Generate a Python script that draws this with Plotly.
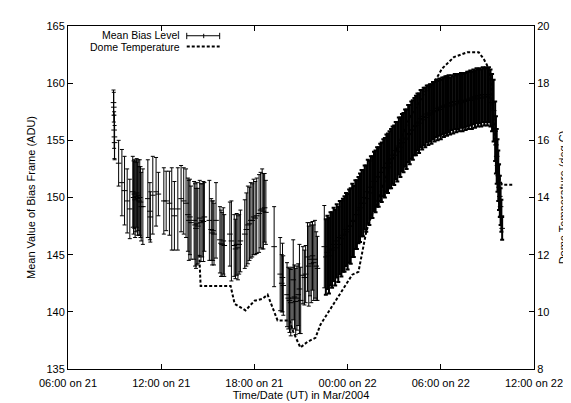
import pandas as pd
import plotly.graph_objects as go

# ---------------- data (hours after 2004-03-21 06:00 UT) ----------------
T0 = "2004-03-21 06:00"

bias_hours = [
    2.93, 2.95, 2.97, 2.99, 3.00, 3.26, 3.47, 3.64, 3.81, 3.98,
    4.17, 4.22, 4.27, 4.32, 4.37, 4.42, 4.47, 4.52, 4.57, 4.62, 4.67, 4.71,
    4.82, 5.14, 5.27, 5.30, 5.46, 5.67, 5.82, 6.17, 6.32, 6.53, 6.68, 6.85,
    7.07, 7.28, 7.45, 7.60, 7.72, 7.78, 7.85, 7.92,
    8.12, 8.18, 8.24, 8.30, 8.36, 8.48, 8.56, 8.64, 8.72, 8.78,
    9.10, 9.22, 9.28, 9.34, 9.40, 9.53, 9.78, 9.85, 9.92, 10.00, 10.06,
    10.42, 10.52, 10.70, 10.78, 10.86, 10.94, 11.02, 11.10,
    11.38, 11.48, 11.58, 11.68, 11.77, 11.86, 11.95, 12.05, 12.15,
    12.30, 12.40, 12.50, 12.58, 12.66, 12.74,
    13.27, 13.66, 13.76, 13.81, 13.86,
    14.10, 14.18, 14.26, 14.34, 14.42, 14.50, 14.58, 14.66, 14.74, 14.82, 14.90, 14.98,
    15.12, 15.22, 15.30, 15.42, 15.50, 15.58, 15.66, 15.74, 15.82, 15.90, 15.98, 16.06,
    16.50,
    16.6, 16.7, 16.8, 16.9, 17.0, 17.1, 17.2, 17.3, 17.4, 17.5,
    17.6, 17.7, 17.8, 17.9, 18.0, 18.1, 18.2, 18.3, 18.4, 18.5,
    18.6, 18.7, 18.8, 18.9, 19.0, 19.1, 19.2, 19.3, 19.4, 19.5,
    19.6, 19.7, 19.8, 19.9, 20.0, 20.1, 20.2, 20.3, 20.4, 20.5,
    20.6, 20.7, 20.8, 20.9, 21.0, 21.1, 21.2, 21.3, 21.4, 21.5,
    21.6, 21.7, 21.8, 21.9, 22.0, 22.1, 22.2, 22.3, 22.4, 22.5,
    22.6, 22.7, 22.8, 22.9, 23.0, 23.1, 23.2, 23.3, 23.4, 23.5,
    23.6, 23.7, 23.8, 23.9, 24.0, 24.1, 24.2, 24.3, 24.4, 24.5,
    24.6, 24.7, 24.8, 24.9, 25.0, 25.1, 25.2, 25.3, 25.4, 25.5,
    25.6, 25.7, 25.8, 25.9, 26.0, 26.1, 26.2, 26.3, 26.4, 26.5,
    26.6, 26.7, 26.8, 26.9, 27.0, 27.1, 27.2, 27.3, 27.4, 27.5,
    27.55, 27.6, 27.65, 27.7, 27.75, 27.8, 27.85, 27.9, 27.95,
]

bias_values = [
    158.3, 157.9, 155.9, 155.3, 154.8, 153.0, 151.3, 150.6, 149.7, 149.0,
    150.5, 150.0, 150.3, 149.8, 150.1, 150.4, 149.9, 150.2, 149.7, 150.0, 149.6, 149.2,
    149.2, 149.9, 148.8, 148.3, 150.2, 150.5, 150.3, 149.7, 149.7, 149.5, 149.0, 148.4,
    149.0, 149.9, 149.7, 149.5, 148.5, 148.0, 148.3, 147.8,
    148.0, 147.6, 147.3, 147.7, 147.5, 148.2, 147.8, 148.0, 147.9, 148.3,
    148.0, 147.2, 146.9, 147.1, 146.8, 148.0, 146.3, 146.0, 145.9, 146.2, 145.8,
    146.8, 146.2, 145.8, 145.5, 145.9, 145.6, 145.9, 146.2,
    146.8, 147.2, 147.6, 147.7, 148.0, 148.0, 148.3, 148.2, 148.4,
    148.6, 148.9, 149.0, 148.8, 149.1, 148.7,
    145.7, 143.3, 142.5, 143.0, 142.3,
    141.5, 141.2, 141.0, 140.8, 141.2, 142.8, 141.3, 140.9, 141.2, 141.5, 142.0, 141.0,
    143.2, 143.0, 143.3, 144.8, 144.0, 144.6, 144.2, 144.9, 144.3, 144.6, 144.0, 143.8,
    145.7,
    144.8, 145.2, 144.9, 145.5, 145.4, 145.9, 145.6, 146.2, 145.9, 146.5,
    146.4, 146.7, 146.8, 147.2, 147.0, 147.5, 147.5, 148.0, 147.9, 148.5,
    148.5, 148.9, 149.1, 149.5, 149.5, 150.0, 149.9, 150.5, 150.4, 150.9,
    150.9, 151.4, 151.4, 151.8, 151.8, 152.2, 152.2, 152.6, 152.6, 153.0,
    153.0, 153.3, 153.4, 153.7, 153.7, 154.1, 154.0, 154.5, 154.4, 154.8,
    154.8, 155.2, 155.1, 155.6, 155.5, 155.9, 155.9, 156.2, 156.3, 156.6,
    156.5, 156.9, 156.8, 157.1, 157.0, 157.3, 157.2, 157.4, 157.3, 157.6,
    157.5, 157.8, 157.6, 157.9, 157.7, 158.0, 157.9, 158.1, 158.0, 158.2,
    158.0, 158.3, 158.1, 158.4, 158.2, 158.4, 158.3, 158.5, 158.3, 158.5,
    158.4, 158.6, 158.5, 158.7, 158.5, 158.8, 158.6, 158.9, 158.7, 158.9,
    158.7, 159.0, 158.8, 159.0, 158.8, 159.0, 158.7, 158.3, 157.6, 155.8,
    154.6, 153.6, 152.8, 151.9, 150.9, 150.1, 149.2, 148.4, 147.3,
]

bias_errors = [
    1.1, 1.3, 1.6, 1.9, 1.5, 2.0, 2.9, 3.0, 2.8, 2.6,
    3.1, 3.2, 3.0, 3.3, 3.1, 3.0, 3.2, 3.1, 3.0, 3.3, 3.1, 3.0,
    3.3, 3.4, 2.5, 2.2, 3.4, 3.0, 1.9, 2.9, 2.6, 2.8, 3.6, 3.0,
    3.6, 2.9, 2.9, 3.0, 3.2, 3.5, 3.3, 3.2,
    3.4, 3.6, 3.5, 3.6, 3.3, 3.3, 3.4, 3.2, 3.5, 3.0,
    3.5, 2.7, 2.8, 2.6, 2.7, 3.3, 2.9, 2.9, 2.8, 2.9, 2.7,
    2.8, 3.5, 2.7, 2.6, 2.7, 2.8, 2.6, 2.7,
    3.0, 3.2, 3.4, 3.2, 3.3, 3.2, 3.3, 3.2, 3.3,
    3.4, 3.3, 3.5, 3.3, 3.0, 2.8,
    3.5, 3.2, 2.5, 3.0, 2.6,
    2.8, 2.7, 2.8, 2.9, 2.7, 3.5, 2.8, 2.9, 2.8, 2.7, 3.9, 2.9,
    2.5, 2.4, 2.5, 3.0, 3.5, 3.2, 3.4, 3.0, 3.3, 3.4, 3.0, 2.8,
    3.6,
    3.3, 3.2, 3.3, 3.2, 3.3, 3.2, 3.3, 3.2, 3.3, 3.2,
    3.3, 3.2, 3.3, 3.2, 3.3, 3.2, 3.3, 3.2, 3.1, 3.0,
    3.0, 2.9, 3.0, 2.9, 2.9, 2.8, 2.9, 2.8, 2.8, 2.7,
    2.7, 2.6, 2.7, 2.6, 2.6, 2.5, 2.6, 2.5, 2.6, 2.5,
    2.6, 2.5, 2.6, 2.5, 2.6, 2.5, 2.6, 2.5, 2.6, 2.5,
    2.6, 2.5, 2.6, 2.5, 2.6, 2.5, 2.6, 2.5, 2.6, 2.5,
    2.6, 2.5, 2.6, 2.5, 2.6, 2.5, 2.6, 2.5, 2.6, 2.5,
    2.6, 2.5, 2.6, 2.5, 2.6, 2.5, 2.6, 2.5, 2.6, 2.5,
    2.5, 2.4, 2.5, 2.4, 2.5, 2.4, 2.5, 2.4, 2.5, 2.4,
    2.5, 2.4, 2.5, 2.4, 2.5, 2.4, 2.5, 2.4, 2.5, 2.4,
    2.5, 2.4, 2.5, 2.4, 2.5, 2.4, 2.5, 2.5, 2.7, 2.6,
    2.5, 2.4, 2.3, 2.2, 2.0, 1.8, 1.6, 1.4, 1.0,
]

# the continuous run of frames starts here (drawn with heavier bars)
DENSE_FROM_HOUR = 16.55

temp_hours = [
    8.45, 8.50, 8.54, 10.47, 10.73, 11.43, 12.01, 12.50, 12.85, 13.29,
    13.49, 14.26, 14.50, 14.96, 15.41, 15.93, 16.25, 17.15, 17.98, 18.30,
    18.70, 18.95, 19.20, 19.50, 20.00, 21.00, 22.00, 23.00, 23.55, 24.08,
    24.84, 25.70, 26.44, 26.76, 26.97, 27.20, 27.50, 27.80, 27.95, 28.70,
]
temp_values = [
    12.0, 11.6, 10.9, 10.9, 10.28, 10.05, 10.39, 10.45, 10.6, 9.98,
    9.70, 9.70, 9.30, 8.75, 8.95, 9.09, 9.55, 10.32, 11.0, 11.3,
    11.4, 12.1, 12.8, 13.3, 14.0, 15.5, 16.8, 17.7, 18.0, 18.51,
    18.91, 19.08, 19.08, 18.85, 18.64, 18.2, 16.0, 14.6, 14.45, 14.45,
]

# ---------------- figure ----------------
base = pd.Timestamp(T0)
df = pd.DataFrame({"h": bias_hours, "v": bias_values, "e": bias_errors})
df["t"] = base + pd.to_timedelta(df["h"], unit="h")
temp_t = base + pd.to_timedelta(temp_hours, unit="h")

FONT = "Liberation Sans, Arial, Helvetica, sans-serif"

fig = go.Figure()
for part, thick in ((df[df["h"] < DENSE_FROM_HOUR], 1), (df[df["h"] >= DENSE_FROM_HOUR], 2)):
    fig.add_trace(go.Scatter(
        x=part["t"], y=part["v"], mode="markers", name="Mean Bias Level",
        marker=dict(symbol="line-ew", size=4, color="black",
                    line=dict(color="black", width=1)),
        error_y=dict(type="data", array=part["e"].tolist(), visible=True,
                     color="black", thickness=thick, width=2),
        showlegend=False,
    ))
fig.add_trace(go.Scatter(
    x=temp_t, y=temp_values, mode="lines", name="Dome Temperature",
    yaxis="y2", line=dict(color="black", width=2, dash="3px,2px"),
    showlegend=False,
))

# gnuplot-style key (text right-aligned, sample to the right)
def px(xp):
    return (xp - 60) / 467.0

def py(yp):
    return 1 - (yp - 13) / 352.0

key_items = ["Mean Bias Level", "Dome Temperature"]
key_rows = [22.5, 34.5]
for label, row in zip(key_items, key_rows):
    fig.add_annotation(x=px(172), y=py(row), xref="paper", yref="paper",
                       text=label, showarrow=False, xanchor="right",
                       yanchor="middle", borderpad=0, borderwidth=0,
                       font=dict(size=10.5, color="black"))
# error bar sample
fig.add_shape(type="line", xref="paper", yref="paper", x0=px(179), x1=px(212),
              y0=py(23), y1=py(23), line=dict(color="black", width=1))
for xs in (179, 212):
    fig.add_shape(type="line", xref="paper", yref="paper", x0=px(xs), x1=px(xs),
                  y0=py(20), y1=py(26.5), line=dict(color="black", width=1))
fig.add_shape(type="line", xref="paper", yref="paper", x0=px(196), x1=px(196),
              y0=py(21), y1=py(25.5), line=dict(color="black", width=1))
# dashed sample
fig.add_shape(type="line", xref="paper", yref="paper", x0=px(179), x1=px(212),
              y0=py(34), y1=py(34), line=dict(color="black", width=2, dash="3px,2px"))

fig.update_layout(
    width=571, height=403,
    margin=dict(l=60, r=44, t=13, b=38),
    paper_bgcolor="white", plot_bgcolor="white",
    font=dict(family=FONT, size=11, color="black"),
    xaxis=dict(
        type="date",
        range=[base, base + pd.Timedelta(hours=30)],
        tick0=base, dtick=6 * 3600 * 1000,
        tickformat="%H:%M on %d",
        ticks="inside", ticklen=5, tickcolor="black",
        showline=True, linecolor="black", linewidth=1, mirror="ticks",
        showgrid=False, zeroline=False,
        ticklabelstandoff=4,
        title=dict(text="Time/Date (UT) in Mar/2004", standoff=2,
                   font=dict(size=11)),
        tickfont=dict(size=11),
    ),
    yaxis=dict(
        range=[135, 165], dtick=5,
        ticks="inside", ticklen=5, tickcolor="black",
        showline=True, linecolor="black", linewidth=1, mirror=False,
        showgrid=False, zeroline=False,
        title=dict(text="Mean Value of Bias Frame (ADU)", standoff=8,
                   font=dict(size=11)),
        tickfont=dict(size=11),
    ),
    yaxis2=dict(
        range=[8, 20], dtick=2, overlaying="y", side="right",
        ticks="inside", ticklen=5, tickcolor="black",
        showline=True, linecolor="black", linewidth=1,
        showgrid=False, zeroline=False,
        title=dict(text="Dome Temperature (deg C)", standoff=10,
                   font=dict(size=11)),
        tickfont=dict(size=11),
    ),
)

fig.write_html("out.html")
